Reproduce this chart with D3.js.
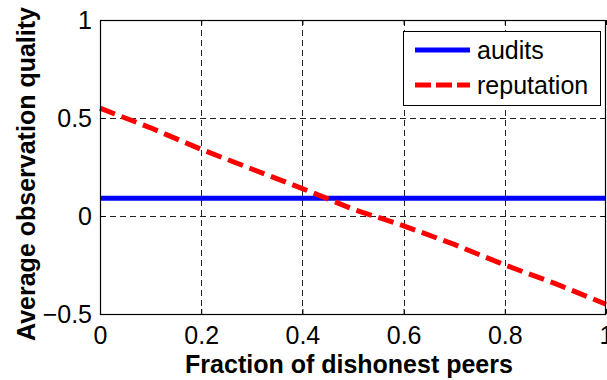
<!DOCTYPE html>
<html lang="en">
<head>
<meta charset="UTF-8">
<title>Observation quality</title>
<script src="https://d3js.org/d3.v7.min.js"></script>
<style>
  body { margin: 0; background: #fff; }
  text { font-family: "Liberation Sans", Arial, sans-serif; }
</style>
</head>
<body>
<div id="chart"></div>
<script>
    var width = 607, height = 380;
    var margin = {top: 20, right: 1, bottom: 66, left: 100};

    // data
    var fraction = [0, 0.1, 0.2, 0.3, 0.4, 0.5, 0.6, 0.7, 0.8, 0.9, 1];
    var audits = [0.09, 0.09, 0.09, 0.09, 0.09, 0.09, 0.09, 0.09, 0.09, 0.09, 0.09];
    var reputation = [0.55, 0.45, 0.34, 0.24, 0.14, 0.035, -0.05, -0.145, -0.25, -0.345, -0.45];
    var xTicks = [0, 0.2, 0.4, 0.6, 0.8, 1];
    var yTicks = [-0.5, 0, 0.5, 1];
    var seriesNames = ["audits", "reputation"];

    var svg = d3.select("#chart").append("svg")
        .attr("width", width)
        .attr("height", height);

    var x = d3.scaleLinear().domain([0, 1]).range([margin.left, width - margin.right]);
    var y = d3.scaleLinear().domain([-0.5, 1]).range([height - margin.bottom, margin.top]);

    // grid lines (dashed)
    var grid = svg.append("g");
    grid.selectAll(".gx")
        .data(xTicks.slice(1, -1))
        .enter().append("line")
        .attr("x1", d => Math.round(x(d)) + 0.5).attr("x2", d => Math.round(x(d)) + 0.5)
        .attr("y1", y(1)).attr("y2", y(-0.5))
        .attr("stroke", "#222").attr("stroke-width", 1).attr("stroke-dasharray", "6,4");
    grid.selectAll(".gy")
        .data(yTicks.slice(1, -1))
        .enter().append("line")
        .attr("y1", d => Math.round(y(d)) + 0.5).attr("y2", d => Math.round(y(d)) + 0.5)
        .attr("x1", x(0)).attr("x2", x(1))
        .attr("stroke", "#222").attr("stroke-width", 1).attr("stroke-dasharray", "6,4");

    // lines
    var line = d3.line()
        .x((d, i) => x(fraction[i]))
        .y(d => y(d));

    svg.append("path")
        .datum(audits)
        .attr("d", line)
        .attr("fill", "none")
        .attr("stroke", "#0000ff")
        .attr("stroke-width", 5);

    svg.append("path")
        .datum(reputation)
        .attr("d", line)
        .attr("fill", "none")
        .attr("stroke", "#ff0000")
        .attr("stroke-width", 5)
        .attr("stroke-dasharray", "16,7");

    // axes, ticks pointing inward
    var xAxis = svg.append("g")
        .attr("transform", "translate(0," + y(-0.5) + ")")
        .call(d3.axisBottom(x).tickValues(xTicks).tickFormat(d3.format("")).tickSizeInner(-5).tickSizeOuter(0).tickPadding(12));
    var yAxis = svg.append("g")
        .attr("transform", "translate(" + x(0) + ",0)")
        .call(d3.axisLeft(y).tickValues(yTicks).tickFormat(d3.format("")).tickSizeInner(-5).tickSizeOuter(0).tickPadding(8));
    svg.append("g")
        .attr("transform", "translate(0," + y(1) + ")")
        .call(d3.axisTop(x).tickValues(xTicks).tickFormat("").tickSizeInner(-5).tickSizeOuter(0));
    svg.append("g")
        .attr("transform", "translate(" + x(1) + ",0)")
        .call(d3.axisRight(y).tickValues(yTicks).tickFormat("").tickSizeInner(-5).tickSizeOuter(0));

    svg.selectAll(".domain").remove();
    svg.selectAll(".tick line").attr("stroke", "#000");
    xAxis.selectAll("text").attr("font-size", 25).attr("fill", "#000")
        .attr("font-family", "Liberation Sans, Arial, sans-serif");
    yAxis.selectAll("text").attr("font-size", 25).attr("fill", "#000")
        .attr("font-family", "Liberation Sans, Arial, sans-serif");

    // box
    svg.append("rect")
        .attr("x", x(0) + 0.5).attr("y", y(1) + 0.5)
        .attr("width", x(1) - x(0) - 1).attr("height", y(-0.5) - y(1))
        .attr("fill", "none").attr("stroke", "#000").attr("stroke-width", 1.2);

    // axis titles
    svg.append("text")
        .attr("x", (x(0) + x(1)) / 2 - 4)
        .attr("y", 373)
        .attr("text-anchor", "middle")
        .attr("font-size", 25).attr("font-weight", "bold")
        .text("Fraction of dishonest peers");
    svg.append("text")
        .attr("transform", "translate(35,174) rotate(-90)")
        .attr("text-anchor", "middle")
        .attr("font-size", 25).attr("font-weight", "bold")
        .text("Average observation quality");

    // legend
    var legend = svg.append("g");
    legend.append("rect")
        .attr("x", 403.5).attr("y", 31.5).attr("width", 197).attr("height", 74)
        .attr("fill", "#fff").attr("stroke", "#000").attr("stroke-width", 1);
    var styles = [{c: "#0000ff", dash: null}, {c: "#ff0000", dash: "16,5"}];
    seriesNames.forEach(function(name, i) {
        var ly = 50 + i * 35;
        legend.append("line")
            .attr("x1", 415).attr("x2", 470).attr("y1", ly).attr("y2", ly)
            .attr("stroke", styles[i].c).attr("stroke-width", 5)
            .attr("stroke-dasharray", styles[i].dash);
        legend.append("text")
            .attr("x", 477).attr("y", ly + 9)
            .attr("font-size", 25)
            .text(name);
    });
</script>
</body>
</html>
